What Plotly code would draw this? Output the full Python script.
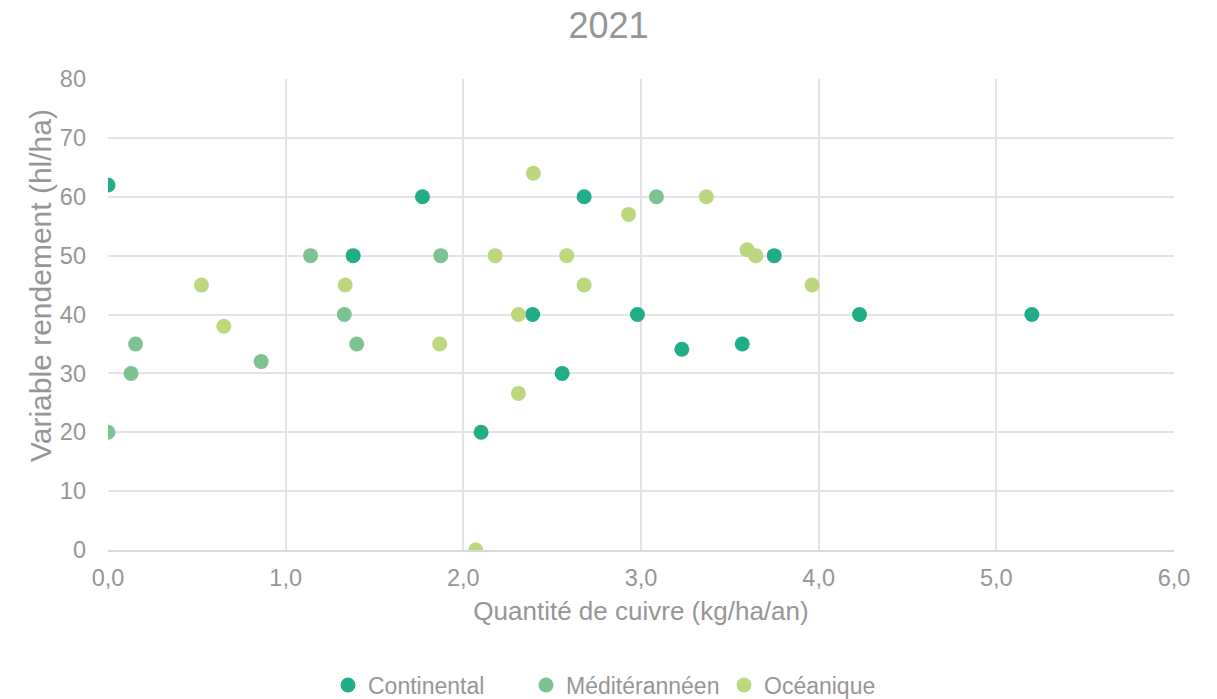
import plotly.graph_objects as go

# Copper quantity (kg/ha/an) and yield variable (hl/ha) per climate zone
continental_x = [0.0, 1.38, 1.77, 2.10, 2.39, 2.556, 2.68, 2.98, 3.23, 3.57, 3.75, 4.23, 5.20]
continental_y = [62, 50, 60, 20, 40, 30, 60, 40, 34.1, 35, 50, 40, 40]

mediterraneen_x = [0.0, 0.13, 0.155, 0.862, 1.14, 1.33, 1.40, 1.873, 3.087]
mediterraneen_y = [20, 30, 35, 32, 50, 40, 35, 50, 60]

oceanique_x = [0.526, 0.652, 1.335, 1.867, 2.07, 2.179, 2.31, 2.31, 2.394, 2.582,
               2.68, 2.93, 3.368, 3.597, 3.646, 3.963]
oceanique_y = [45, 38, 45, 35, 0, 50, 40, 26.6, 64, 50, 45, 57, 60, 51, 50, 45]

series = [
    ("Continental", continental_x, continental_y, "#22ad89"),
    ("Méditérannéen", mediterraneen_x, mediterraneen_y, "#7dc292"),
    ("Océanique", oceanique_x, oceanique_y, "#bdd77c"),
]

FONT = "Liberation Sans, Arial, sans-serif"
GREY = "#969696"
GRID = "#e3e3e3"

fig = go.Figure()
for name, xs, ys, color in series:
    fig.add_trace(go.Scatter(
        x=xs, y=ys, mode="markers", name=name,
        marker=dict(size=15, color=color, line=dict(width=0)),
    ))

fig.update_layout(
    width=1217, height=699,
    margin=dict(l=108, r=43, t=79, b=149, autoexpand=False),
    paper_bgcolor="white", plot_bgcolor="white",
    separators=", ",
    font=dict(family=FONT, color=GREY, size=23),
    title=dict(text="2021", x=0.5, xanchor="center", y=1 - 25 / 699, yanchor="middle",
               yref="container", font=dict(size=36, color=GREY, family=FONT)),
    xaxis=dict(
        range=[0, 6], dtick=1, tick0=0, tickformat=".1f", automargin=False,
        showgrid=True, gridcolor=GRID, gridwidth=2,
        showline=True, linecolor="#d9d9d9", linewidth=2,
        zeroline=False, ticks="", ticklabelstandoff=6,
        tickfont=dict(size=23.5, color=GREY),
        title=dict(text="Quantité de cuivre (kg/ha/an)", standoff=12,
                   font=dict(size=26, color=GREY)),
    ),
    yaxis=dict(
        range=[0, 80], dtick=10, tick0=0, automargin=False,
        showgrid=True, gridcolor=GRID, gridwidth=2,
        showline=False, zeroline=False, ticks="", ticklabelstandoff=21,
        tickfont=dict(size=23.5, color=GREY),
    ),
    legend=dict(
        orientation="h", xref="container", x=328 / 1217, xanchor="left",
        yref="container", y=1 - 685 / 699, yanchor="middle",
        font=dict(size=23, color=GREY), itemwidth=30, tracegroupgap=0,
        entrywidth=153, entrywidthmode="pixels",
    ),
)

# Y-axis title, placed as a rotated annotation left of the tick labels
fig.add_annotation(
    text="Variable rendement (hl/ha)", textangle=-90, showarrow=False,
    xref="paper", yref="paper", x=(40 - 108) / 1066, y=(550 - 286) / 471,
    xanchor="center", yanchor="middle",
    font=dict(size=30, color=GREY, family=FONT),
)

fig.write_html("out.html")
